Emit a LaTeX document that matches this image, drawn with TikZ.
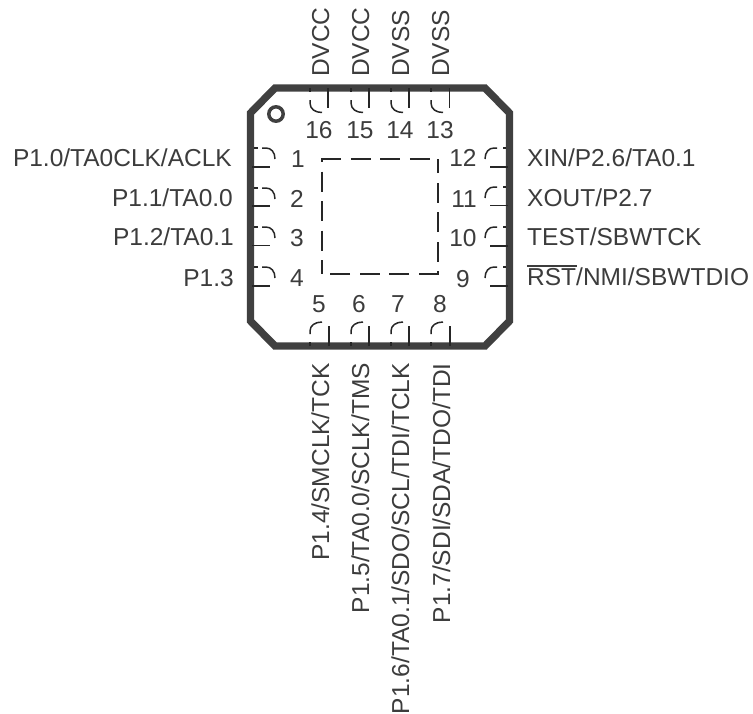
\documentclass[tikz,border=0pt]{standalone}
\usepackage{fontspec}
\setmainfont{Liberation Sans}
\definecolor{bodyc}{HTML}{404040}
\definecolor{txtc}{HTML}{3C3C3C}
\definecolor{linec}{HTML}{262626}
\tikzset{
  pkg/.style={draw=bodyc,line width=7.4pt,line join=miter},
  pad/.style={draw=linec,line width=1.5pt,dash pattern=on 20pt off 9.5pt},
  pinln/.style={draw=linec,line width=1.5pt},
  lbl/.style={font=\fontsize{24.5}{26}\selectfont,text=txtc,inner sep=0pt},
  num/.style={lbl,anchor=base},
}
\begin{document}
\begin{tikzpicture}[x=1pt,y=-1pt]
\useasboundingbox (0,0) rectangle (753,713);
\draw[pkg] (275,88) -- (485,88) -- (509.5,113) -- (509.5,321) -- (485,346) -- (275,346) -- (250.5,321) -- (250.5,113) -- cycle;
\draw[bodyc,line width=3.5pt] (276,114) circle (7.2);
% exposed pad
\draw[pad] (321.3,159) -- (438.7,159);
\draw[pad,dash phase=17pt] (322,159) -- (322,274);
\draw[pad,dash phase=17pt] (438,274) -- (438,159);
\draw[pad] (438.7,274) -- (321.3,274);
% left pins
\foreach \t/\b in {148/167,188/206,227/245.5,267/286}{
  \draw[pinln] (254,\t) -- (258,\t);
  \draw[pinln] (262,\t) -- (266,\t) .. controls (271,\t) and (275,\t+4) .. (275,\t+11);
  \draw[pinln] (252,\b) -- (270,\b);
}
% right pins
\foreach \t/\b in {148/167,187/205.5,227/246,267/286}{
  \draw[pinln] (506,\t) -- (503,\t);
  \draw[pinln] (497,\t) -- (494,\t) .. controls (489,\t) and (485,\t+4) .. (485,\t+11);
  \draw[pinln] (508,\b) -- (490,\b);
}
% top pins
\foreach \a/\l in {310/328,351/369,391/409,431/449.5}{
  \draw[pinln] (\a,88) -- (\a,92);
  \draw[pinln] (\a,100) -- (\a,103) .. controls (\a,109) and (\a+5,112.5) .. (\a+12,112.5);
  \draw[pinln] (\l,88) -- (\l,108);
}
% bottom pins
\foreach \a/\l in {310/329,351/369,391/409,431/450}{
  \draw[pinln] (\a,346) -- (\a,342);
  \draw[pinln] (\a,334) -- (\a,331) .. controls (\a,325.5) and (\a+5,322) .. (\a+12,322);
  \draw[pinln] (\l,346) -- (\l,326);
}
\node[num] (n1) at (298,167) {1};
\node[num] (n2) at (297,207) {2};
\node[num] (n3) at (297,246) {3};
\node[num] (n4) at (297,286) {4};
\node[num] (n5) at (319,312) {5};
\node[num] (n6) at (359,312) {6};
\node[num] (n7) at (398,312) {7};
\node[num] (n8) at (440,312) {8};
\node[num] (n9) at (463,287) {9};
\node[num] (n10) at (463,246) {10};
\node[num] (n11) at (464,207) {11};
\node[num] (n12) at (463,166) {12};
\node[num] (n13) at (440,138) {13};
\node[num] (n14) at (400,138) {14};
\node[num] (n15) at (360,138) {15};
\node[num] (n16) at (319,138) {16};
\node[lbl,anchor=base east] (l1) at (232,166) {P1.0/TA0CLK/ACLK};
\node[lbl,anchor=base east] (l2) at (233,206) {P1.1/TA0.0};
\node[lbl,anchor=base east] (l3) at (234,245) {P1.2/TA0.1};
\node[lbl,anchor=base east] (l4) at (234,286) {P1.3};
\node[lbl,anchor=base west] (l12) at (527,166) {XIN/P2.6/TA0.1};
\node[lbl,anchor=base west] (l11) at (527,206) {XOUT/P2.7};
\node[lbl,anchor=base west] (l10) at (527,245) {TEST/SBWTCK};
\node[lbl,anchor=base west] (l9) at (527,285) {\rlap{\raisebox{18.3pt}{\rule{50pt}{1.5pt}}}RST/NMI/SBWTDIO};
\node[lbl,anchor=base west,rotate=90] (l16) at (329,77) {DVCC};
\node[lbl,anchor=base west,rotate=90] (l15) at (369,77) {DVCC};
\node[lbl,anchor=base west,rotate=90] (l14) at (409,77) {DVSS};
\node[lbl,anchor=base west,rotate=90] (l13) at (449,77) {DVSS};
\node[lbl,anchor=base east,rotate=90] (l5) at (329,363) {P1.4/SMCLK/TCK};
\node[lbl,anchor=base east,rotate=90] (l6) at (369,363) {P1.5/TA0.0/SCLK/TMS};
\node[lbl,anchor=base east,rotate=90] (l7) at (409,363) {P1.6/TA0.1/SDO/SCL/TDI/TCLK};
\node[lbl,anchor=base east,rotate=90] (l8) at (450,363) {P1.7/SDI/SDA/TDO/TDI};
\end{tikzpicture}
\end{document}
